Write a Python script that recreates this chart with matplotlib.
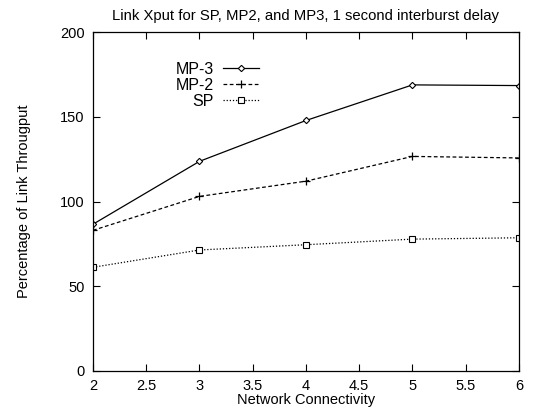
import matplotlib
matplotlib.use("Agg")
import matplotlib.pyplot as plt

plt.rcParams['font.family'] = ['Liberation Sans', 'DejaVu Sans']

# Datos
conectividad = [2, 3, 4, 5, 6]
mp3 = [86.6, 123.7, 147.8, 168.8, 168.4]
mp2 = [83.0, 103.0, 112.0, 126.6, 125.7]
sp = [61.2, 71.4, 74.5, 77.8, 78.6]

fig = plt.figure(figsize=(5.58, 4.13), dpi=100)
ax = fig.add_axes([0.1667, 0.1017, 0.7633, 0.8208])

ax.plot(conectividad, mp3, color='black', linewidth=0.9, linestyle='-',
        marker='D', markersize=3.2, markerfacecolor='white', markeredgewidth=0.8, label='MP-3')
ax.plot(conectividad, mp2, color='black', linewidth=0.9, linestyle=(0, (3, 2)),
        marker='+', markersize=6, markeredgewidth=0.9, label='MP-2')
ax.plot(conectividad, sp, color='black', linewidth=0.9, linestyle=(0, (1, 1.5)),
        marker='s', markersize=4, markerfacecolor='white', markeredgewidth=0.8, label='SP')

ax.set_xlim(2, 6)
ax.set_ylim(0, 200)
ax.set_xticks([2, 2.5, 3, 3.5, 4, 4.5, 5, 5.5, 6])
ax.set_xticklabels(['2', '2.5', '3', '3.5', '4', '4.5', '5', '5.5', '6'])
ax.set_yticks([0, 50, 100, 150, 200])
ax.tick_params(direction='in', top=True, right=True, length=5, width=0.8, labelsize=10.5)
ax.tick_params(axis='x', pad=6)
ax.tick_params(axis='y', pad=6)
for s in ax.spines.values():
    s.set_linewidth(0.9)

ax.set_title('Link Xput for SP, MP2, and MP3, 1 second interburst delay', fontsize=10.7, pad=9)
ax.set_xlabel('Network Connectivity', fontsize=10.5, labelpad=0)
ax.set_ylabel('Percentage of Link Througput', fontsize=10.5, labelpad=21)

ax.legend(loc='upper left', bbox_to_anchor=(0.175, 0.935), frameon=False, markerfirst=False,
          fontsize=11.5, handlelength=2.2, handletextpad=0.6, labelspacing=0.05, borderpad=0)

fig.savefig('out.png', dpi=100)
